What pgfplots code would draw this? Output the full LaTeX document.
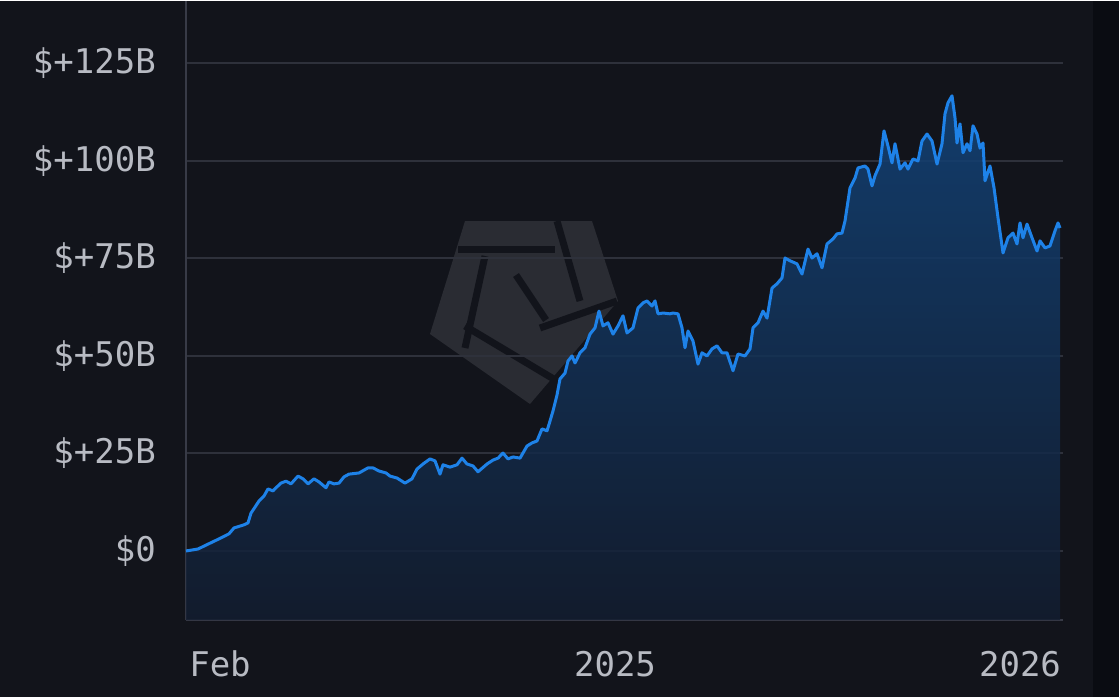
\documentclass[border=0pt]{standalone}
\usepackage{pgfplots}
\pgfplotsset{compat=1.18}
\usepackage{pgfplotstable}
\usepackage{fontspec}
\setmainfont{DejaVu Sans Mono}
\definecolor{bg}{HTML}{12141B}
\definecolor{strip}{HTML}{0A0C12}
\definecolor{gridc}{HTML}{2E313B}
\definecolor{axc}{HTML}{383B47}
\definecolor{lbl}{HTML}{B8BBC3}
\definecolor{linec}{RGB}{30,130,232}
\definecolor{filltop}{RGB}{18,68,122}
\definecolor{fillbot}{RGB}{19,29,48}
\definecolor{logo}{HTML}{2A2C33}

\pgfplotstableread{
x y
0 0
12 0.5
20 1.5
33 3.1
43 4.4
48 5.9
58 6.7
62 7.2
65 9.7
73 12.8
78 14.1
82 15.9
87 15.4
90 16.2
95 17.4
100 17.9
105 17.2
112 19.2
117 18.5
122 17.2
128 18.5
133 17.7
140 16.2
143 17.7
148 17.2
153 17.4
158 19.0
163 19.7
173 20.0
182 21.3
187 21.3
193 20.5
200 20.0
204 19.2
211 18.7
219 17.4
226 18.5
231 21.0
237 22.3
244 23.6
249 23.1
254 19.7
257 22.1
264 21.5
271 22.1
276 23.8
281 22.3
287 21.8
292 20.3
301 22.3
307 23.3
312 23.8
317 25.1
322 23.6
327 24.1
334 23.8
341 26.9
346 27.7
351 28.2
356 31.3
361 30.8
364 33.3
367 35.9
371 40.0
374 44.1
379 45.6
382 48.7
386 50.0
389 48.2
394 50.8
399 52.1
404 55.6
409 57.2
413 61.5
417 57.7
422 58.5
427 55.6
432 57.7
437 60.3
441 55.9
447 57.2
452 62.3
457 63.6
461 64.1
466 62.8
469 64.1
472 60.8
477 61.0
484 60.8
487 61.0
492 60.8
496 57.2
499 52.1
502 56.4
507 53.8
512 47.9
516 50.8
521 50.0
526 51.8
531 52.6
536 50.8
541 50.8
547 46.2
552 50.5
559 50.0
564 51.8
567 57.2
572 58.5
577 61.5
581 59.7
586 67.4
591 68.5
596 70.0
599 75.1
604 74.4
611 73.6
616 71.0
622 77.4
626 75.1
631 76.2
636 72.6
641 78.7
647 80.0
651 81.3
656 81.5
659 84.6
664 93.1
669 95.6
672 98.2
679 98.7
682 97.9
686 93.6
689 96.2
694 99.2
698 107.7
702 103.8
706 99.5
709 104.4
714 97.9
719 99.5
722 97.9
727 100.5
732 100.0
736 105.1
741 106.9
746 105.1
751 99.2
756 104.4
759 112.1
762 114.9
766 116.7
769 111.0
771 104.6
774 109.5
777 102.1
781 104.4
784 102.6
787 109.0
791 106.9
794 103.3
797 104.6
799 94.9
804 98.7
808 93.1
812 85.4
817 76.4
822 80.3
827 81.5
831 78.7
834 84.1
837 80.3
841 83.8
846 80.3
851 76.9
854 79.5
859 77.7
864 78.2
869 82.1
872 84.1
874 82.8
}\flows

\begin{document}
\begin{tikzpicture}[x=1bp,y=1bp]
% background
\fill[bg] (-186,-77) rectangle (933,619);
\fill[strip] (907,-77) rectangle (933,619);
% watermark logo (decorative)
\fill[logo] (279,399) -- (406,399) -- (432,319) -- (344,216) -- (244,286) -- cycle;
\begin{scope}[draw=bg, line width=7bp]
\draw (272,371) -- (369,371);
\draw (371,399) -- (394,319);
\draw (299,364) -- (279,272);
\draw (279,294) -- (371,239);
\draw (354,292) -- (431,319);
\draw (330,345) -- (360,300);
\end{scope}
\begin{axis}[
  at={(0,0)}, anchor=south west,
  scale only axis, width=877bp, height=619bp,
  xmin=0, xmax=877, ymin=-17.7, ymax=141,
  axis lines*=left,
  axis line style={-, draw=axc, line width=2bp},
  ytick={0,25,50,75,100,125},
  yticklabels={\$0,\$+25B,\$+50B,\$+75B,\$+100B,\$+125B},
  xtick={34,429,834},
  xticklabels={Feb,2025,2026},
  ymajorgrids,
  grid style={draw=gridc, line width=2bp},
  major tick length=0pt,
  tick label style={font=\fontsize{34bp}{40bp}\selectfont, text=lbl},
  yticklabel style={anchor=east, inner sep=0pt, xshift=-30bp},
  xticklabel style={anchor=center, inner sep=0pt, yshift=-44bp},
]
\addplot[draw=none, top color=filltop, bottom color=fillbot, fill opacity=0.85, forget plot]
  table[x=x,y=y] {\flows} -- (axis cs:874,-17.7) -- (axis cs:0,-17.7) -- cycle;
\addplot[linec, line width=3bp, line join=round] table[x=x,y=y] {\flows};
\end{axis}
\end{tikzpicture}
\end{document}
